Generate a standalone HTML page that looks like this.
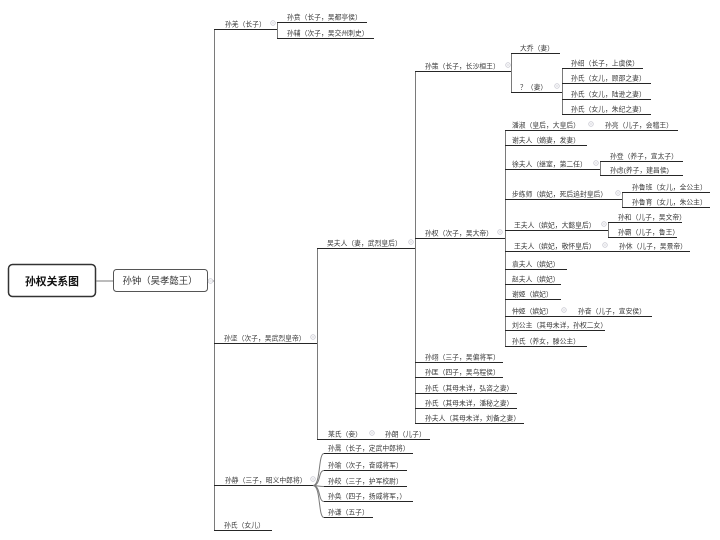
<!DOCTYPE html>
<html>
<head>
<meta charset="utf-8">
<style>
  html,body{margin:0;padding:0;background:#fff;}
  svg{display:block;}
  text{font-family:"Liberation Sans","Noto Sans CJK SC",sans-serif;}
  .t{font-size:6.8px;fill:#3a3a3a;}
  .u{stroke:#262626;stroke-width:1.1;fill:none;}
  .c{stroke:#7a7a7a;stroke-width:1;fill:none;}
  .m{fill:#fff;stroke:#c9c9d2;stroke-width:0.8;}
  .mm{stroke:#c9c9d2;stroke-width:0.8;}
</style>
</head>
<body>
<svg width="720" height="540" viewBox="0 0 720 540" xmlns="http://www.w3.org/2000/svg">
  <rect x="0" y="0" width="720" height="540" fill="#fff"/>

  <!-- root -->
  <rect x="8.5" y="264.5" width="87" height="32" rx="4" ry="4" fill="#fff" stroke="#333" stroke-width="1.5"/>
  <text x="52" y="285" text-anchor="middle" style="font-size:10.8px;font-weight:bold;fill:#111;">孙权关系图</text>
  <line class="c" x1="96" y1="281" x2="113" y2="281"/>
  <rect x="113.5" y="269.5" width="94" height="22" rx="3" ry="3" fill="#fff" stroke="#555" stroke-width="1"/>
  <text x="160" y="284" text-anchor="middle" style="font-size:9.4px;fill:#333;">孙钟（吴孝懿王）</text>
  <line class="c" x1="208" y1="281" x2="214" y2="281"/>
  <circle class="m" cx="210.5" cy="281" r="2.3"/><line class="mm" x1="209.3" y1="281" x2="211.7" y2="281"/>

  <!-- vertical connectors -->
  <line class="c" x1="214.5" y1="29" x2="214.5" y2="530"/>
  <line class="c" x1="277.5" y1="22" x2="277.5" y2="38"/>
  <line class="c" x1="317.5" y1="248" x2="317.5" y2="439"/>
  <line class="c" x1="415.5" y1="71" x2="415.5" y2="423"/>
  <line class="c" x1="511.5" y1="53" x2="511.5" y2="92"/>
  <line class="c" x1="562.5" y1="68" x2="562.5" y2="114"/>
  <line class="c" x1="505.5" y1="130" x2="505.5" y2="346"/>
  <line class="c" x1="600.5" y1="161" x2="600.5" y2="175"/>
  <line class="c" x1="622.5" y1="192" x2="622.5" y2="207"/>
  <line class="c" x1="608.5" y1="222" x2="608.5" y2="237"/>

  <!-- curves for 孙静 -->
  <path class="c" d="M313,485.5 C321,485.5 318,453.5 324,453.5"/>
  <path class="c" d="M313,485.5 C321,485.5 318,470.5 324,470.5"/>
  <path class="c" d="M313,485.5 C318,485.5 318,486.5 324,486.5"/>
  <path class="c" d="M313,485.5 C321,485.5 318,501.5 324,501.5"/>
  <path class="c" d="M313,485.5 C321,485.5 318,517.5 324,517.5"/>

  <!-- Level 2 -->
  <line class="u" x1="214" y1="29.5" x2="277" y2="29.5"/>
  <text class="t" x="225" y="26.5">孙羌（长子）</text>
  <circle class="m" cx="273" cy="23" r="2.3"/><line class="mm" x1="271.8" y1="23" x2="274.2" y2="23"/>

  <line class="u" x1="214" y1="343.5" x2="317" y2="343.5"/>
  <text class="t" x="224" y="340.5">孙坚（次子，吴武烈皇帝）</text>
  <circle class="m" cx="313" cy="337" r="2.3"/><line class="mm" x1="311.8" y1="337" x2="314.2" y2="337"/>

  <line class="u" x1="214" y1="485.5" x2="313" y2="485.5"/>
  <text class="t" x="225" y="482.5">孙静（三子，昭义中郎将）</text>
  <circle class="m" cx="313" cy="479" r="2.3"/><line class="mm" x1="311.8" y1="479" x2="314.2" y2="479"/>

  <line class="u" x1="214" y1="530.5" x2="272" y2="530.5"/>
  <text class="t" x="224" y="527.5">孙氏（女儿）</text>

  <!-- 孙羌 children -->
  <line class="u" x1="277" y1="22.5" x2="367" y2="22.5"/>
  <text class="t" x="287" y="19.5">孙贲（长子，吴都亭侯）</text>
  <line class="u" x1="277" y1="38.5" x2="374" y2="38.5"/>
  <text class="t" x="287" y="35.5">孙辅（次子，吴交州刺史）</text>

  <!-- 孙坚 children -->
  <line class="u" x1="317" y1="248.5" x2="415" y2="248.5"/>
  <text class="t" x="327" y="245.5">吴夫人（妻，武烈皇后）</text>
  <circle class="m" cx="411" cy="242" r="2.3"/><line class="mm" x1="409.8" y1="242" x2="412.2" y2="242"/>

  <line class="u" x1="317" y1="439.5" x2="430" y2="439.5"/>
  <text class="t" x="328" y="436.5">某氏（妾）</text>
  <circle class="m" cx="372" cy="433" r="2.3"/><line class="mm" x1="370.8" y1="433" x2="373.2" y2="433"/>
  <text class="t" x="385" y="436.5">孙朗（儿子）</text>

  <!-- 吴夫人 children -->
  <line class="u" x1="415" y1="71.5" x2="511" y2="71.5"/>
  <text class="t" x="425" y="68.5">孙策（长子，长沙桓王）</text>
  <circle class="m" cx="508" cy="65" r="2.3"/><line class="mm" x1="506.8" y1="65" x2="509.2" y2="65"/>

  <line class="u" x1="415" y1="238.5" x2="505" y2="238.5"/>
  <text class="t" x="425" y="235.5">孙权（次子，吴大帝）</text>
  <circle class="m" cx="500" cy="232" r="2.3"/><line class="mm" x1="498.8" y1="232" x2="501.2" y2="232"/>

  <line class="u" x1="415" y1="362.5" x2="503" y2="362.5"/>
  <text class="t" x="425" y="359.5">孙翊（三子，吴偏将军）</text>
  <line class="u" x1="415" y1="377.5" x2="503" y2="377.5"/>
  <text class="t" x="425" y="374.5">孙匡（四子，吴乌程侯）</text>
  <line class="u" x1="415" y1="393.5" x2="517" y2="393.5"/>
  <text class="t" x="425" y="390.5">孙氏（其母未详，弘咨之妻）</text>
  <line class="u" x1="415" y1="408.5" x2="517" y2="408.5"/>
  <text class="t" x="425" y="405.5">孙氏（其母未详，潘秘之妻）</text>
  <line class="u" x1="415" y1="423.5" x2="524" y2="423.5"/>
  <text class="t" x="425" y="420.5">孙夫人（其母未详，刘备之妻）</text>

  <!-- 孙策 children -->
  <line class="u" x1="511" y1="53.5" x2="560" y2="53.5"/>
  <text class="t" x="520" y="50.5">大乔（妻）</text>
  <line class="u" x1="511" y1="92.5" x2="562" y2="92.5"/>
  <text class="t" x="520" y="89.5">？（妻）</text>
  <circle class="m" cx="557" cy="86" r="2.3"/><line class="mm" x1="555.8" y1="86" x2="558.2" y2="86"/>

  <!-- ? children -->
  <line class="u" x1="562" y1="68.5" x2="643" y2="68.5"/>
  <text class="t" x="571" y="65.5">孙绍（长子，上虞侯）</text>
  <line class="u" x1="562" y1="83.5" x2="651" y2="83.5"/>
  <text class="t" x="571" y="80.5">孙氏（女儿，顾邵之妻）</text>
  <line class="u" x1="562" y1="99.5" x2="651" y2="99.5"/>
  <text class="t" x="571" y="96.5">孙氏（女儿，陆逊之妻）</text>
  <line class="u" x1="562" y1="114.5" x2="651" y2="114.5"/>
  <text class="t" x="571" y="111.5">孙氏（女儿，朱纪之妻）</text>

  <!-- 孙权 children -->
  <line class="u" x1="505" y1="130.5" x2="678" y2="130.5"/>
  <text class="t" x="512" y="127.5">潘淑（皇后，大皇后）</text>
  <circle class="m" cx="591" cy="124" r="2.3"/><line class="mm" x1="589.8" y1="124" x2="592.2" y2="124"/>
  <text class="t" x="605" y="127.5">孙亮（儿子，会稽王）</text>

  <line class="u" x1="505" y1="145.5" x2="587" y2="145.5"/>
  <text class="t" x="512" y="142.5">谢夫人（嫡妻，发妻）</text>

  <line class="u" x1="505" y1="169.5" x2="600" y2="169.5"/>
  <text class="t" x="512" y="166.5">徐夫人（继室，第二任）</text>
  <circle class="m" cx="596" cy="163" r="2.3"/><line class="mm" x1="594.8" y1="163" x2="597.2" y2="163"/>
  <line class="u" x1="600" y1="161.5" x2="683" y2="161.5"/>
  <text class="t" x="610" y="158.5">孙登（养子，宣太子）</text>
  <line class="u" x1="600" y1="175.5" x2="683" y2="175.5"/>
  <text class="t" x="610" y="172.5">孙虑(养子，建昌侯)</text>

  <line class="u" x1="505" y1="199.5" x2="622" y2="199.5"/>
  <text class="t" x="512" y="196.5">步练师（嫔妃，死后追封皇后）</text>
  <circle class="m" cx="618" cy="193" r="2.3"/><line class="mm" x1="616.8" y1="193" x2="619.2" y2="193"/>
  <line class="u" x1="622" y1="192.5" x2="710" y2="192.5"/>
  <text class="t" x="632" y="189.5">孙鲁班（女儿，全公主）</text>
  <line class="u" x1="622" y1="207.5" x2="710" y2="207.5"/>
  <text class="t" x="632" y="204.5">孙鲁育（女儿，朱公主）</text>

  <line class="u" x1="505" y1="230.5" x2="608" y2="230.5"/>
  <text class="t" x="514" y="227.5">王夫人（嫔妃，大懿皇后）</text>
  <circle class="m" cx="604" cy="224" r="2.3"/><line class="mm" x1="602.8" y1="224" x2="605.2" y2="224"/>
  <line class="u" x1="608" y1="222.5" x2="682" y2="222.5"/>
  <text class="t" x="618" y="219.5">孙和（儿子，吴文帝）</text>
  <line class="u" x1="608" y1="237.5" x2="677" y2="237.5"/>
  <text class="t" x="618" y="234.5">孙霸（儿子，鲁王）</text>

  <line class="u" x1="505" y1="251.5" x2="690" y2="251.5"/>
  <text class="t" x="514" y="248.5">王夫人（嫔妃，敬怀皇后）</text>
  <circle class="m" cx="605" cy="245" r="2.3"/><line class="mm" x1="603.8" y1="245" x2="606.2" y2="245"/>
  <text class="t" x="619" y="248.5">孙休（儿子，吴景帝）</text>

  <line class="u" x1="505" y1="269.5" x2="567" y2="269.5"/>
  <text class="t" x="512" y="266.5">袁夫人（嫔妃）</text>
  <line class="u" x1="505" y1="284.5" x2="561" y2="284.5"/>
  <text class="t" x="512" y="281.5">赵夫人（嫔妃）</text>
  <line class="u" x1="505" y1="299.5" x2="561" y2="299.5"/>
  <text class="t" x="512" y="296.5">谢姬（嫔妃）</text>

  <line class="u" x1="505" y1="316.5" x2="652" y2="316.5"/>
  <text class="t" x="512" y="313.5">仲姬（嫔妃）</text>
  <circle class="m" cx="564" cy="310" r="2.3"/><line class="mm" x1="562.8" y1="310" x2="565.2" y2="310"/>
  <text class="t" x="578" y="313.5">孙奋（儿子，宣安侯）</text>

  <line class="u" x1="505" y1="330.5" x2="605" y2="330.5"/>
  <text class="t" x="512" y="327.5">刘公主（其母未详，孙权二女）</text>
  <line class="u" x1="505" y1="346.5" x2="587" y2="346.5"/>
  <text class="t" x="512" y="343.5">孙氏（养女，滕公主）</text>

  <!-- 孙静 children -->
  <line class="u" x1="324" y1="453.5" x2="413" y2="453.5"/>
  <text class="t" x="328" y="450.5">孙暠（长子，定武中郎将）</text>
  <line class="u" x1="324" y1="470.5" x2="407" y2="470.5"/>
  <text class="t" x="328" y="467.5">孙瑜（次子，奋威将军）</text>
  <line class="u" x1="324" y1="486.5" x2="407" y2="486.5"/>
  <text class="t" x="328" y="483.5">孙皎（三子，护军校尉）</text>
  <line class="u" x1="324" y1="501.5" x2="413" y2="501.5"/>
  <text class="t" x="328" y="498.5">孙奂（四子，扬威将军，）</text>
  <line class="u" x1="324" y1="517.5" x2="373" y2="517.5"/>
  <text class="t" x="328" y="514.5">孙谦（五子）</text>
</svg>
</body>
</html>
